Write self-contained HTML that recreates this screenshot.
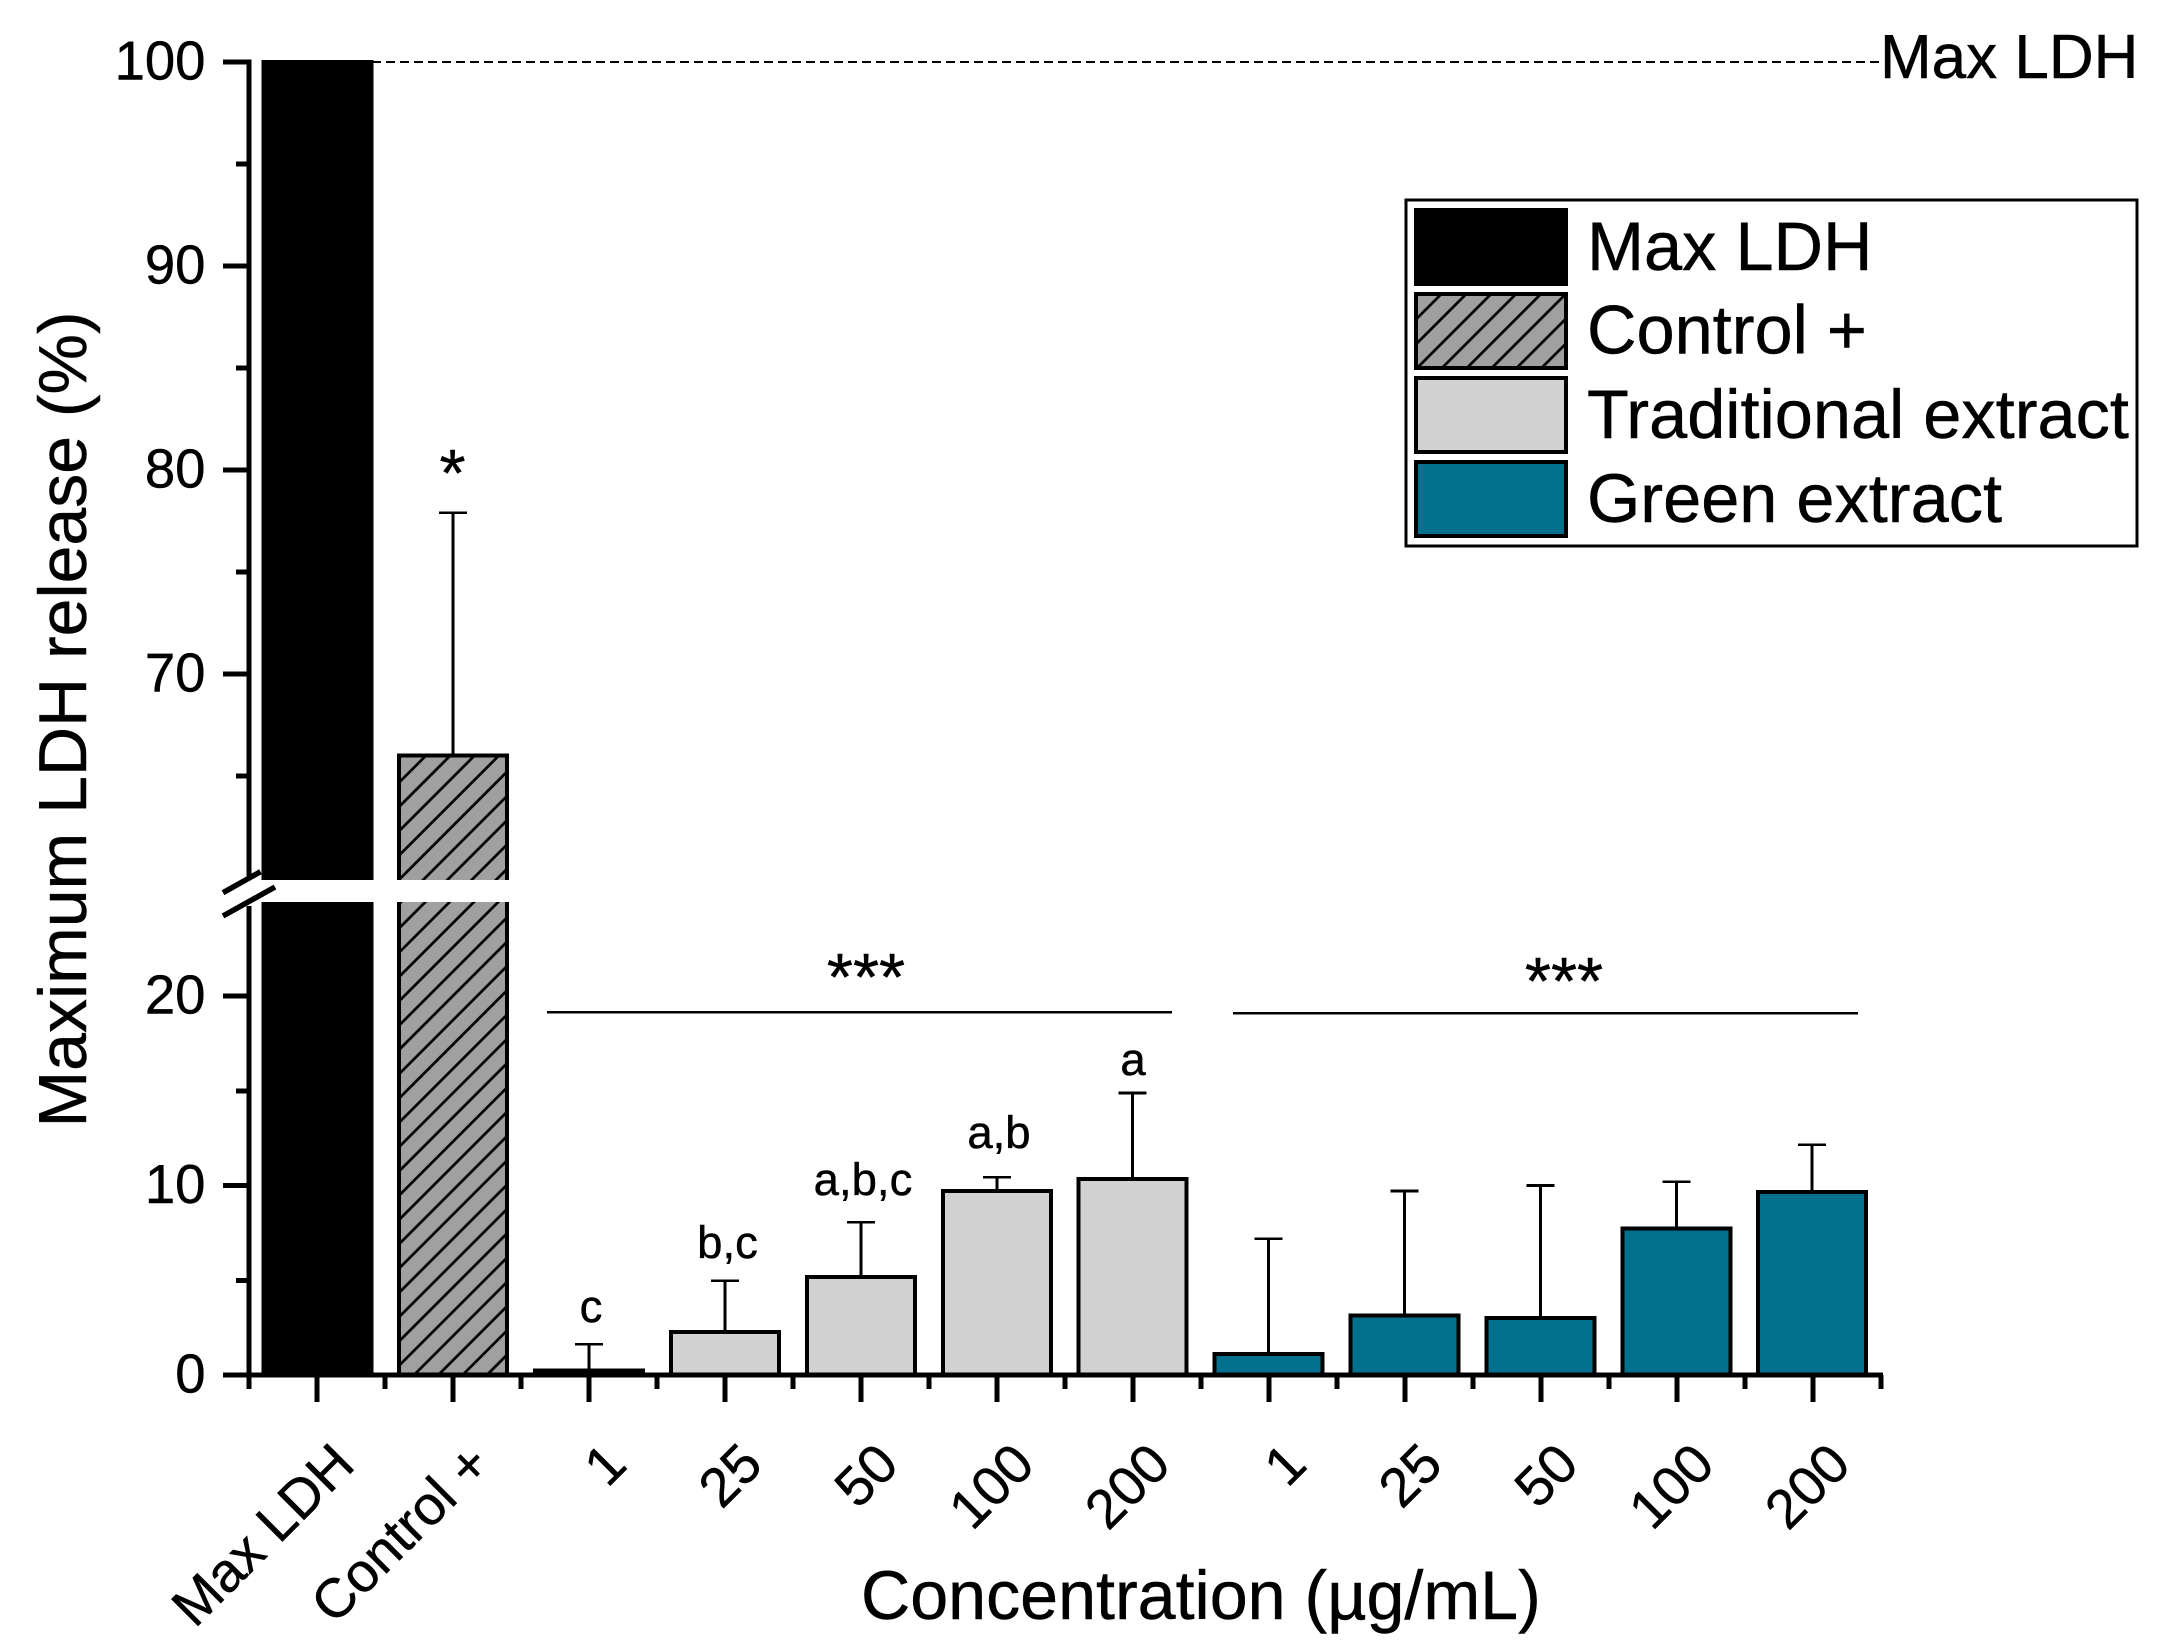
<!DOCTYPE html>
<html lang="en">
<head>
<meta charset="utf-8">
<title>Maximum LDH release chart</title>
<style>
html,body{margin:0;padding:0;background:#fff;}
svg{display:block;}
text{font-family:"Liberation Sans",Arial,sans-serif;fill:#000;stroke:#000;stroke-width:0.45px;}
rect,line{shape-rendering:crispEdges;}
</style>
</head>
<body>
<svg id="chart" xmlns="http://www.w3.org/2000/svg" width="2160" height="1650" viewBox="0 0 2160 1650">
  <defs>
    <pattern id="hatch" patternUnits="userSpaceOnUse" width="17.18" height="17.18" patternTransform="rotate(45)">
      <rect width="17.18" height="17.18" fill="#a0a0a0" style="shape-rendering:auto"></rect>
      <rect x="9.5" width="2.7" height="17.18" fill="#000" style="shape-rendering:auto"></rect>
    </pattern>
    <pattern id="hatch-legend" patternUnits="userSpaceOnUse" width="17.6" height="17.6" patternTransform="rotate(45)">
      <rect width="17.6" height="17.6" fill="#a0a0a0" style="shape-rendering:auto"></rect>
      <rect x="11.3" width="2.7" height="17.6" fill="#000" style="shape-rendering:auto"></rect>
    </pattern>
  </defs>
  <rect width="2160" height="1650" fill="#fff"></rect>
  <line x1="372" y1="62" x2="1881" y2="62" stroke="#000" stroke-width="2" stroke-dasharray="9 5"></line>
  <text x="1880" y="78" font-size="62">Max LDH</text>
  <g id="plot"></g>
  <text transform="translate(86,1127.5) rotate(-90)" font-size="68">Maximum LDH release (%)</text>
  <text x="861" y="1619" font-size="68.2">Concentration (µg/mL)</text>
  <text x="452.5" y="496" font-size="67" text-anchor="middle">*</text>
  <line x1="547" y1="1012" x2="1172" y2="1012" stroke="#000" stroke-width="2.5"></line>
  <text x="866" y="1000" font-size="67" text-anchor="middle">***</text>
  <line x1="1233" y1="1013" x2="1858" y2="1013" stroke="#000" stroke-width="2.5"></line>
  <text x="1564" y="1004" font-size="67" text-anchor="middle">***</text>
  <text x="591" y="1322" font-size="45.5" text-anchor="middle">c</text>
  <text x="727.5" y="1258" font-size="45.5" text-anchor="middle">b,c</text>
  <text x="863" y="1195" font-size="45.5" text-anchor="middle">a,b,c</text>
  <text x="999" y="1148" font-size="45.5" text-anchor="middle">a,b</text>
  <text x="1133" y="1075" font-size="45.5" text-anchor="middle">a</text>
  <g>
    <rect x="1406" y="200" width="731" height="346" fill="#fff" stroke="#000" stroke-width="2.6"></rect>
    <rect x="1416" y="210" width="150" height="74" fill="#000" stroke="#000" stroke-width="4"></rect>
    <rect x="1416" y="294" width="150" height="74" fill="url(#hatch-legend)" stroke="#000" stroke-width="4"></rect>
    <rect x="1416" y="378" width="150" height="74" fill="#d2d2d2" stroke="#000" stroke-width="4"></rect>
    <rect x="1416" y="462" width="150" height="74" fill="#03708d" stroke="#000" stroke-width="4"></rect>
    <text x="1587" y="270" font-size="68.5">Max LDH</text>
    <text x="1587" y="353.5" font-size="68.5">Control +</text>
    <text x="1587" y="438" font-size="68.5">Traditional extract</text>
    <text x="1587" y="522" font-size="68.5">Green extract</text>
  </g>
</svg>
<script>
const categories = ['Max LDH','Control +','1','25','50','100','200','1','25','50','100','200'];
const barGroups = ['max','control','traditional','traditional','traditional','traditional','traditional','green','green','green','green','green'];
const barValues = [100,66.0,0.25,2.27,5.17,9.7,10.34,1.1,3.13,3.02,7.74,9.67];
const errorTops = [null,77.9,1.62,4.98,8.06,10.43,14.88,7.2,9.71,10.0,10.2,12.14];
const yMajorTicks = [0,10,20,70,80,90,100];
const yMinorTicks = [5,15,65,75,85,95];

const svgNS = 'http://www.w3.org/2000/svg';
const plot = document.getElementById('plot');
const groupFill = {max:'#000',control:'url(#hatch)',traditional:'#d2d2d2',green:'#03708d'};

const BAR_HALF = 54;
const BREAK_LOW = 25;
const BREAK_HIGH = 60;
const GAP_TOP = 880;
const GAP_BOTTOM = 902;

function xScale(i){ return 317.3 + 135.9 * i; }
function tickX(i){ return 317 + 136 * i; }
function yScale(v){
  if (v <= BREAK_LOW) return 1375 - 18.95 * v;
  return 878 - 20.4 * (v - BREAK_HIGH);
}
function make(tag, attrs, parent){
  const el = document.createElementNS(svgNS, tag);
  for (const k in attrs) el.setAttribute(k, attrs[k]);
  (parent || plot).appendChild(el);
  return el;
}

/* error bars */
errorTops.forEach(function(top, i){
  if (top === null) return;
  const cx = xScale(i);
  const stem = make('line', {x1:cx, x2:cx, y1:yScale(barValues[i]), y2:yScale(top), stroke:'#000', 'stroke-width':3});
  
  
  const cap = make('line', {x1:cx-14, x2:cx+14, y1:yScale(top), y2:yScale(top), stroke:'#000', 'stroke-width':2.6});
  
  
});

/* bars */
barValues.forEach(function(v, i){
  const cx = xScale(i);
  const top = yScale(v);
  const bar = make('rect', {x:cx-BAR_HALF, y:top, width:BAR_HALF*2, height:yScale(0)-top, fill:groupFill[barGroups[i]], stroke:'#000', 'stroke-width':4});
  
  
  if (v > BREAK_LOW) {
    const gap = make('rect', {x:cx-BAR_HALF-4, y:GAP_TOP, width:BAR_HALF*2+8, height:GAP_BOTTOM-GAP_TOP, fill:'#fff'});
    
    
  }
});

/* y axis */
const AX = 249;
const axisUpper = make('line', {x1:AX, x2:AX, y1:yScale(100)-2.7, y2:876, stroke:'#000', 'stroke-width':5.2});


const axisLower = make('line', {x1:AX, x2:AX, y1:906, y2:yScale(0)+2, stroke:'#000', 'stroke-width':5.2});



yMajorTicks.forEach(function(t){
  const y = yScale(t);
  const tick = make('line', {x1:223, x2:AX, y1:y, y2:y, stroke:'#000', 'stroke-width':5});
  
  
  const label = make('text', {x:205.5, y:y+17.5, 'font-size':54.5, 'text-anchor':'end'});
  label.textContent = String(t);
  
  
});
yMinorTicks.forEach(function(t){
  const y = yScale(t);
  const tick = make('line', {x1:236, x2:AX, y1:y, y2:y, stroke:'#000', 'stroke-width':5});
  
  
});

/* axis break marks */
const breakUpper = make('line', {x1:223, y1:GAP_TOP+12.7, x2:260.5, y2:GAP_TOP-8.3, stroke:'#000', 'stroke-width':5.5});


breakUpper.style.shapeRendering = 'auto';
const breakLower = make('line', {x1:223, y1:GAP_TOP+36, x2:275, y2:GAP_TOP+7, stroke:'#000', 'stroke-width':5.5});


breakLower.style.shapeRendering = 'auto';

/* x axis */
const x0 = yScale(0);
const xAxis = make('line', {x1:223, x2:1883, y1:x0, y2:x0, stroke:'#000', 'stroke-width':4.8});



categories.forEach(function(name, i){
  const cx = tickX(i);
  const major = make('line', {x1:cx, x2:cx, y1:x0, y2:x0+27, stroke:'#000', 'stroke-width':5});
  
  
  const minor = make('line', {x1:cx-68, x2:cx-68, y1:x0, y2:x0+14, stroke:'#000', 'stroke-width':5});
  
  
  const label = make('text', {'font-size':55, 'text-anchor':'end', transform:'translate(' + (cx+40) + ',1467) rotate(-45)'});
  label.textContent = name;
  
  
});
const lastMinor = make('line', {x1:tickX(categories.length-1)+68, x2:tickX(categories.length-1)+68, y1:x0, y2:x0+14, stroke:'#000', 'stroke-width':5});


</script>
</body>
</html>
